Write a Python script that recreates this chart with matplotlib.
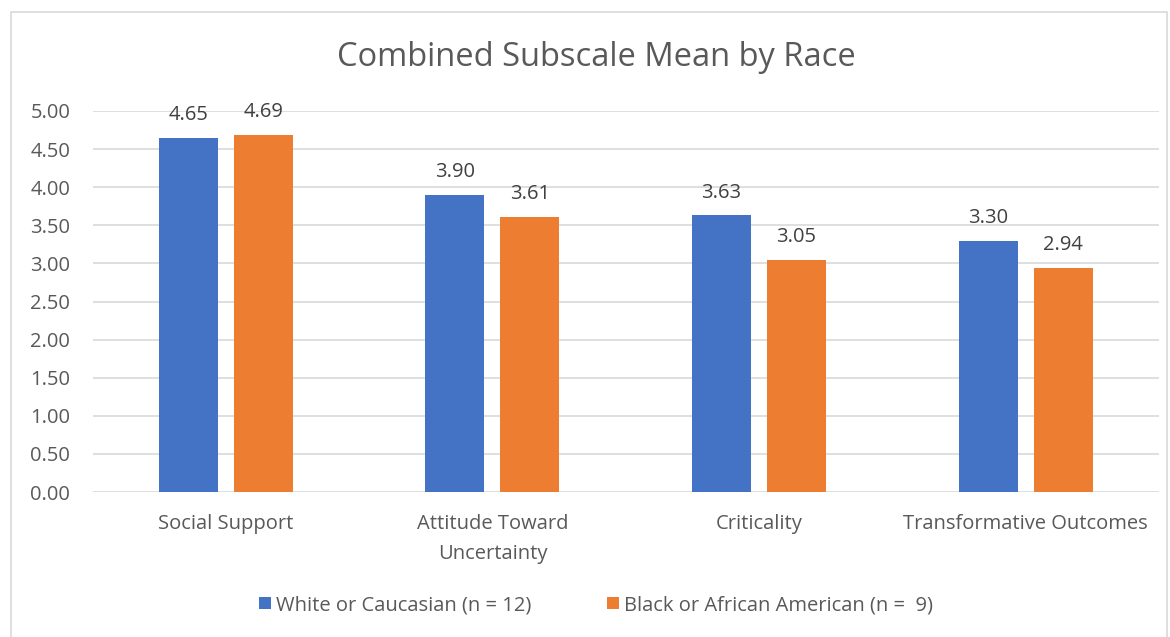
import matplotlib
matplotlib.use("Agg")
import matplotlib.pyplot as plt
import numpy as np
from matplotlib.patches import Rectangle

categories = ["Social Support", "Attitude Toward\nUncertainty", "Criticality", "Transformative Outcomes"]
white_vals = [4.65, 3.90, 3.63, 3.30]
black_vals = [4.69, 3.61, 3.05, 2.94]
series_names = ["White or Caucasian (n = 12)", "Black or African American (n =  9)"]
yticks = [0, 0.5, 1.0, 1.5, 2.0, 2.5, 3.0, 3.5, 4.0, 4.5, 5.0]

plt.rcParams['font.family'] = ['Open Sans', 'DejaVu Sans']
txt = '#595959'
fs = 14.5

fig = plt.figure(figsize=(11.70, 6.37), dpi=100)
fig.patches.append(Rectangle((11/1170, -0.01), (1167-11)/1170, 1 - 12/637 + 0.01,
                             transform=fig.transFigure, fill=False, edgecolor='#D9D9D9', lw=1.2))
ax = fig.add_axes([92.5/1170, 1 - 492/637, (1159 - 92.5)/1170, (492 - 111)/637])

x = np.arange(len(categories))
w = 0.221
off = 0.1406
b1 = ax.bar(x - off, white_vals, w, color='#4472C4', label=series_names[0], zorder=3)
b2 = ax.bar(x + off, black_vals, w, color='#ED7D31', label=series_names[1], zorder=3)
for bars in (b1, b2):
    for r in bars:
        ax.annotate(f"{r.get_height():.2f}", (r.get_x() + r.get_width() / 2, r.get_height()),
                    xytext=(0, 9), textcoords='offset points', ha='center', va='bottom',
                    fontsize=fs, color='#404040')

ax.set_xlim(-0.5, len(categories) - 0.5)
ax.set_ylim(0, 5)
ax.set_yticks(yticks)
ax.set_yticklabels([f"{v:.2f}" for v in yticks], fontsize=fs, color=txt)
ax.set_xticks(x)
ax.set_xticklabels(categories, fontsize=fs, color=txt, linespacing=1.65)
ax.tick_params(axis='both', length=0)
ax.tick_params(axis='y', pad=16)
ax.tick_params(axis='x', pad=16)
ax.grid(axis='y', color='#D9D9D9', lw=1.2, zorder=0)
for s in ax.spines.values():
    s.set_visible(False)

fig.text(596/1170, 1 - 57/637, "Combined Subscale Mean by Race", ha='center', va='center',
         fontsize=23.5, color=txt)

leg = fig.legend(loc='center', bbox_to_anchor=(596/1170, 1 - 605/637), ncol=2, frameon=False,
                 fontsize=fs, handlelength=0.55, handleheight=0.55, handletextpad=0.25,
                 columnspacing=3.8)
for t in leg.get_texts():
    t.set_color(txt)

fig.savefig("out.png", dpi=100)
